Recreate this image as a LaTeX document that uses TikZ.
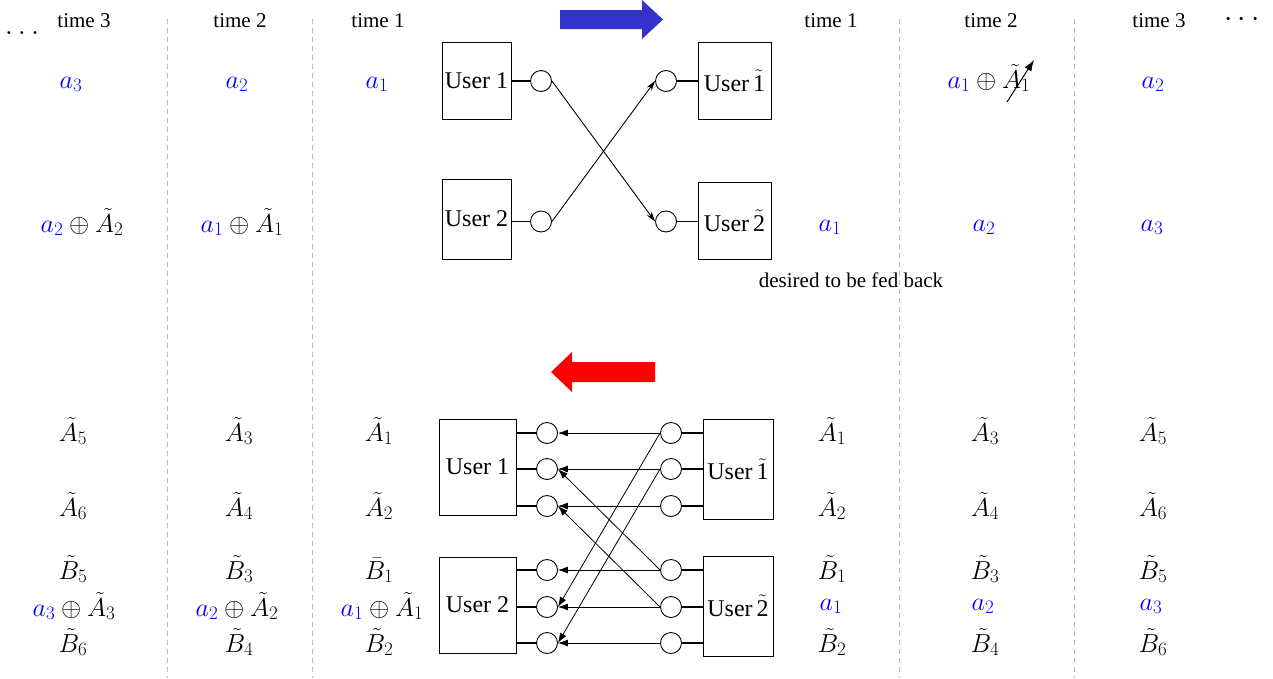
\RequirePackage{fix-cm}
\documentclass[tikz,border=0pt]{standalone}
\usepackage[no-math]{fontspec}
\setmainfont{Liberation Serif}
\usetikzlibrary{arrows.meta}
\DeclareMathSizes{26}{26}{19}{14}
\definecolor{ablue}{RGB}{0,0,255}
\definecolor{barrow}{RGB}{51,51,204}
\definecolor{rarrow}{RGB}{255,0,0}
\newcommand\txtf{\fontsize{21}{25}\selectfont}
\newcommand\mthf{\fontsize{26}{30}\selectfont}
\newcommand\dotf{\fontsize{30}{34}\selectfont}
\newcommand\usrf{\fontsize{24}{28}\selectfont}
\newcommand\ba[1]{\textcolor{ablue}{a_{#1}}}
\newcommand\tl[1]{$\tilde{\hbox{#1}}$}
\tikzset{
  usr/.style={draw, line width=0.9pt, inner sep=0pt, font=\usrf},
  port/.style={draw, circle, minimum size=21pt, inner sep=0pt, line width=0.9pt},
  wire/.style={line width=1.4pt},
  sigt/.style={line width=0.9pt, -{Stealth[length=10pt,width=6pt]}},
  sigb/.style={line width=0.8pt, -{Latex[length=10pt,width=7pt]}},
  tline/.style={gray!55, dash pattern=on 5pt off 4pt, line width=0.9pt},
  lbl/.style={font=\txtf, inner sep=0pt, anchor=base},
  mth/.style={font=\mthf, inner sep=0pt, anchor=base},
}
\begin{document}
\begin{tikzpicture}[x=1pt,y=-1pt]
\useasboundingbox (0,0) rectangle (1273,678);
% time separators
\coordinate (d1a) at (167,19); \coordinate (d1b) at (167,678);
\coordinate (d2a) at (312,19); \coordinate (d2b) at (312,678);
\coordinate (d3a) at (899,19); \coordinate (d3b) at (899,678);
\coordinate (d4a) at (1074,19); \coordinate (d4b) at (1074,678);
\draw[tline] (d1a) -- (d1b);
\draw[tline] (d2a) -- (d2b);
\draw[tline] (d3a) -- (d3b);
\draw[tline] (d4a) -- (d4b);
% time labels
\node[lbl] (tl3) at (84,27) {time 3};
\node[lbl] (tl2) at (240,27) {time 2};
\node[lbl] (tl1) at (378,27) {time 1};
\node[lbl] (tr1) at (831,27) {time 1};
\node[lbl] (tr2) at (991,27) {time 2};
\node[lbl] (tr3) at (1159,27) {time 3};
\node[font=\dotf, inner sep=0pt, anchor=base] (dl) at (22,34) {$\ldots$};
\node[font=\dotf, inner sep=0pt, anchor=base] (dr) at (1242,26) {$\cdots$};
% arrows of direction
\fill[barrow] (560,10) -- (642,10) -- (642,0) -- (663,19.5) -- (642,39) -- (642,29) -- (560,29) -- cycle;
\fill[rarrow] (655,362) -- (572,362) -- (572,352) -- (551,372) -- (572,392) -- (572,382) -- (655,382) -- cycle;
% ---------- top diagram ----------
\node[usr, minimum width=69pt, minimum height=77pt] (U1) at (476.5,80.5) {User 1};
\node[usr, minimum width=69pt, minimum height=80pt] (U2) at (476.5,219) {User 2};
\node[usr, minimum width=73pt, minimum height=77pt] (V1) at (734.5,80.5) {User\,\tl{1}};
\node[usr, minimum width=73pt, minimum height=77pt] (V2) at (734.5,220.5) {User\,\tl{2}};
\node[port] (c1) at (541,81) {};
\node[port] (c2) at (541,221.5) {};
\node[port] (r1) at (666,81) {};
\node[port] (r2) at (666,221.5) {};
\draw[wire] (c1.west) -- (c1.west -| U1.east);
\draw[wire] (c2.west) -- (c2.west -| U2.east);
\draw[wire] (r1.east) -- (r1.east -| V1.west);
\draw[wire] (r2.east) -- (r2.east -| V2.west);
\draw[sigt] (c1.east) -- (r2.west);
\draw[sigt] (c2.east) -- (r1.west);
% top values
\node[mth] (x13) at (71,88) {$\ba{3}$};
\node[mth] (x12) at (237,88) {$\ba{2}$};
\node[mth] (x11) at (377,88) {$\ba{1}$};
\node[mth] (y12) at (989,88) {$\ba{1}\oplus\tilde{A}_1$};
\node[mth] (y13) at (1153,88) {$\ba{2}$};
\coordinate (s0) at (1007,102);
\coordinate (s1) at (1034,60);
\draw[line width=1pt, -{Latex[length=11pt,width=8pt]}] (s0) -- (s1);
\node[mth] (x23) at (82,232) {$\ba{2}\oplus\tilde{A}_2$};
\node[mth] (x22) at (242,232) {$\ba{1}\oplus\tilde{A}_1$};
\node[mth] (y21) at (830,231) {$\ba{1}$};
\node[mth] (y22) at (984,231) {$\ba{2}$};
\node[mth] (y23) at (1152,231) {$\ba{3}$};
\node[lbl] (fb) at (851,287) {desired to be fed back};
% ---------- bottom diagram ----------
\node[usr, minimum width=77pt, minimum height=96pt] (B1) at (477.5,467) {User 1};
\node[usr, minimum width=77pt, minimum height=96pt] (B2) at (477.5,605) {User 2};
\node[usr, minimum width=70pt, minimum height=100pt] (W1) at (738,469) {User\,\tl{1}};
\node[usr, minimum width=70pt, minimum height=100pt] (W2) at (738,606) {User\,\tl{2}};
\foreach \i/\yy in {1/433,2/469,3/506,4/570,5/607,6/643}{
  \node[port] (L\i) at (547,\yy) {};
  \node[port] (R\i) at (671,\yy) {};
  \draw[sigb] (R\i.west) -- (L\i.east);
}
\foreach \i in {1,2,3}{
  \draw[wire] (L\i.west) -- (L\i.west -| B1.east);
  \draw[wire] (R\i.east) -- (R\i.east -| W1.west);
}
\foreach \i in {4,5,6}{
  \draw[wire] (L\i.west) -- (L\i.west -| B2.east);
  \draw[wire] (R\i.east) -- (R\i.east -| W2.west);
}
\draw[sigb] (R1.west) -- (L5.east);
\draw[sigb] (R2.west) -- (L6.east);
\draw[sigb] (R4.west) -- (L2.east);
\draw[sigb] (R5.west) -- (L3.east);
% bottom values left
\node[mth] (p13) at (73,441) {$\tilde{A}_5$};
\node[mth] (p12) at (239,441) {$\tilde{A}_3$};
\node[mth] (p11) at (379,441) {$\tilde{A}_1$};
\node[mth] (p23) at (73,516) {$\tilde{A}_6$};
\node[mth] (p22) at (239,516) {$\tilde{A}_4$};
\node[mth] (p21) at (379,516) {$\tilde{A}_2$};
\node[mth] (p33) at (73,579) {$\tilde{B}_5$};
\node[mth] (p32) at (239,579) {$\tilde{B}_3$};
\node[mth] (p31) at (379,579) {$\bar{B}_1$};
\node[mth] (p43) at (74,616) {$\ba{3}\oplus\tilde{A}_3$};
\node[mth] (p42) at (237,616) {$\ba{2}\oplus\tilde{A}_2$};
\node[mth] (p41) at (382,616) {$\ba{1}\oplus\tilde{A}_1$};
\node[mth] (p53) at (73,652) {$\tilde{B}_6$};
\node[mth] (p52) at (239,652) {$\tilde{B}_4$};
\node[mth] (p51) at (379,652) {$\tilde{B}_2$};
% bottom values right
\node[mth] (q11) at (832,441) {$\tilde{A}_1$};
\node[mth] (q12) at (985,441) {$\tilde{A}_3$};
\node[mth] (q13) at (1153,441) {$\tilde{A}_5$};
\node[mth] (q21) at (832,516) {$\tilde{A}_2$};
\node[mth] (q22) at (985,516) {$\tilde{A}_4$};
\node[mth] (q23) at (1153,516) {$\tilde{A}_6$};
\node[mth] (q31) at (832,579) {$\tilde{B}_1$};
\node[mth] (q32) at (985,579) {$\tilde{B}_3$};
\node[mth] (q33) at (1153,579) {$\tilde{B}_5$};
\node[mth] (q41) at (831,610) {$\ba{1}$};
\node[mth] (q42) at (983,610) {$\ba{2}$};
\node[mth] (q43) at (1151,610) {$\ba{3}$};
\node[mth] (q51) at (832,652) {$\tilde{B}_2$};
\node[mth] (q52) at (985,652) {$\tilde{B}_4$};
\node[mth] (q53) at (1153,652) {$\tilde{B}_6$};
\end{tikzpicture}
\end{document}
